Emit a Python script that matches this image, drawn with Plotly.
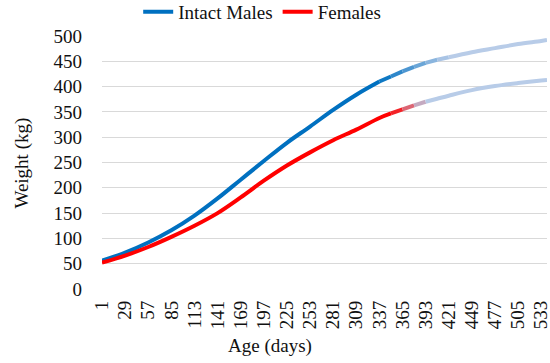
import plotly.graph_objects as go

# ---- data ----
days = [1, 29, 57, 85, 113, 141, 169, 197, 225, 253, 281, 309, 337, 351, 365,
        379, 393, 407, 421, 449, 477, 505, 533, 540]
males = [56, 72, 92, 116, 145, 179, 216, 253, 289, 321, 354, 384, 410, 420, 430,
         439, 447, 453, 458, 468, 476, 484, 490, 492]
females = [52, 66, 83, 103, 125, 150, 181, 214, 244, 270, 294, 315, 338, 347, 355,
           363, 370, 376, 382, 393, 401, 407, 412, 413]
tick_days = list(range(1, 534, 28))
tick_text = [str(d) for d in tick_days]

FONT = "Liberation Serif, Times New Roman, Times, serif"
FS = 19
FC = "#111111"
BLUE = (0, 112, 192)
RED = (255, 0, 0)
LIGHT = (184, 204, 232)
LW = 4.0


def rgb(c):
    return "rgb(%d,%d,%d)" % tuple(int(round(v)) for v in c)


def lerp(a, b, t):
    return tuple(a[i] + (b[i] - a[i]) * t for i in range(3))


fig = go.Figure()


def add_series(name, ys, c0, g0, g1):
    xs = [d for d in days if d <= g0]
    yy = [y for d, y in zip(days, ys) if d <= g0]
    fig.add_trace(go.Scatter(x=xs, y=yy, mode="lines", name=name,
                             line=dict(color=rgb(c0), width=LW, shape="spline"),
                             showlegend=True, hoverinfo="skip"))
    for i in range(len(days) - 1):
        a, b = days[i], days[i + 1]
        if a >= g0 and b <= g1:
            m = (a + b) / 2.0
            t = max(0.0, min(1.0, (m - g0) / float(g1 - g0)))
            col = lerp(c0, LIGHT, t)
            fig.add_trace(go.Scatter(x=[a, b], y=[ys[i], ys[i + 1]], mode="lines",
                                     line=dict(color=rgb(col), width=LW),
                                     showlegend=False, hoverinfo="skip"))
    xs = [d for d in days if d >= g1]
    yy = [y for d, y in zip(days, ys) if d >= g1]
    fig.add_trace(go.Scatter(x=xs, y=yy, mode="lines",
                             line=dict(color=rgb(LIGHT), width=LW, shape="spline"),
                             showlegend=False, hoverinfo="skip"))


add_series("Intact Males", males, BLUE, 337, 421)
add_series("Females", females, RED, 351, 393)

L, R, T, B = 101.7, 3, 36, 74.3
W, H = 550, 363
pw = W - L - R
ph = H - T - B

fig.update_layout(
    width=W, height=H,
    margin=dict(l=L, r=R, t=T, b=B, pad=0, autoexpand=False),
    paper_bgcolor="white", plot_bgcolor="white",
    font=dict(family=FONT, size=FS, color=FC),
    showlegend=True,
    legend=dict(orientation="h", x=(262 - L) / pw, xanchor="center",
                y=1 + (T - 12) / ph, yanchor="middle",
                font=dict(family=FONT, size=FS, color=FC),
                itemwidth=30, tracegroupgap=0, bgcolor="rgba(0,0,0,0)"),
    xaxis=dict(range=[1, 540], tickmode="array", tickvals=tick_days, ticktext=tick_text,
               tickangle=-90, showgrid=False, zeroline=False, showline=False,
               ticks="", ticklabelstandoff=7, ticklabeloverflow="allow",
               automargin=False,
               tickfont=dict(family=FONT, size=FS, color=FC)),
    yaxis=dict(range=[0, 500], tickmode="array", tickvals=list(range(0, 501, 50)),
               showgrid=True, gridcolor="#D9D9D9", gridwidth=1, zeroline=False,
               showline=False, ticks="", ticklabelstandoff=19, automargin=False,
               tickfont=dict(family=FONT, size=FS, color=FC)),
    annotations=[
        dict(text="Age (days)", xref="paper", yref="paper",
             x=(270 - L) / pw, y=-(346 - T - ph) / ph, xanchor="center", yanchor="middle",
             showarrow=False, font=dict(family=FONT, size=FS, color=FC)),
        dict(text="Weight (kg)", xref="paper", yref="paper",
             x=-(L - 22) / pw, y=(T + ph - 163) / ph, xanchor="center", yanchor="middle",
             textangle=-90, showarrow=False,
             font=dict(family=FONT, size=FS, color=FC)),
    ],
)

fig.write_html("out.html", config={"displayModeBar": False},
               post_script="document.body.style.margin='0';document.body.style.padding='0';")
